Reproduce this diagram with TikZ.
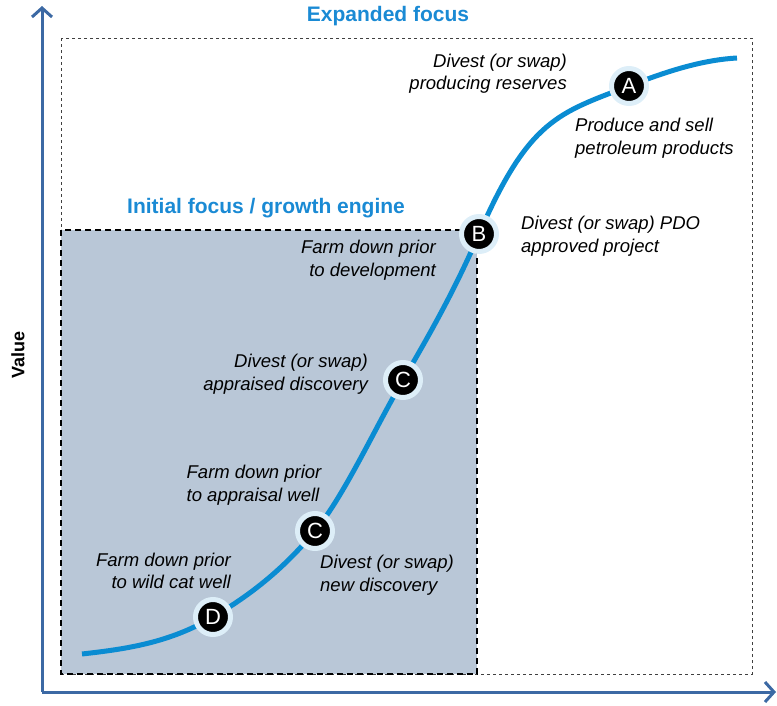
\documentclass[tikz,border=0pt]{standalone}
\usepackage{fontspec}
\setmainfont{Liberation Sans}
\usetikzlibrary{arrows.meta}

\definecolor{axisblue}{HTML}{3C69A4}
\definecolor{titleblue}{HTML}{1A8AD4}
\definecolor{curveblue}{HTML}{0A8CD2}
\definecolor{areafill}{HTML}{B9C7D7}
\definecolor{ringblue}{HTML}{DDEEF8}

\tikzset{
  axis/.style={draw=axisblue, line width=3pt, -{Straight Barb[length=9pt,width=20pt]}},
  stage/.style={circle, fill=black, draw=ringblue, line width=5pt, minimum size=35pt,
    inner sep=0pt, text=white, font=\fontsize{22}{22}\selectfont},
  remark/.style={inner sep=0pt, font=\fontsize{18.5}{22.5}\selectfont\itshape},
  heading/.style={text=titleblue, font=\fontsize{21}{24}\selectfont\bfseries}
}

\begin{document}
\begin{tikzpicture}[x=1pt,y=-1pt]
  \useasboundingbox (0,0) rectangle (777,705);

  % focus areas
  \draw[dashed, draw=black!75, line width=1pt] (61,38) rectangle (752,674);
  \draw[dashed, fill=areafill, line width=1.6pt, dash pattern=on 6pt off 4pt] (61,230) rectangle (477,674);
  \node[heading] (expanded) at (388,16) {Expanded focus};
  \node[heading] (initial) at (266,208) {Initial focus / growth engine};

  % axes
  \coordinate (O) at (42,692);
  \draw[axis] (O) -- (42,6);
  \draw[axis] (O) -- (776,692);
  \node[rotate=90, font=\fontsize{18}{20}\selectfont\bfseries] (value) at (18,355) {Value};

  % value curve
  \coordinate (start) at (82,654);
  \coordinate (pD) at (213,617);
  \coordinate (pC1) at (315,531);
  \coordinate (pC2) at (403,380);
  \coordinate (pB) at (479,234);
  \coordinate (pA) at (629,86);
  \coordinate (end) at (737,58);
  \draw[curveblue, line width=5pt]
    (start) .. controls +(44,-5) and +(-44,26) .. (pD)
            .. controls +(34,-20) and +(-34,41) .. (pC1)
            .. controls +(29,-35) and +(-29,50) .. (pC2)
            .. controls +(25,-43) and +(-25,58) .. (pB)
            .. controls +(50,-115) and +(-70,27) .. (pA)
            .. controls +(36,-14) and +(-36,2) .. (end);

  % stages
  \node[stage] (A) at (pA) {A};
  \node[stage] (B) at (pB) {B};
  \node[stage] (C2) at (pC2) {C};
  \node[stage] (C1) at (pC1) {C};
  \node[stage] (D) at (pD) {D};

  % options
  \node[remark, anchor=east, align=right] (reserves) at (567,73.5) {Divest (or swap)\\producing reserves};
  \node[remark, anchor=west, align=left] (sell) at (575,138) {Produce and sell\\petroleum products};
  \node[remark, anchor=west, align=left] (pdo) at (521,236) {Divest (or swap) PDO\\approved project};
  \node[remark, anchor=east, align=right] (develop) at (436,260) {Farm down prior\\to development};
  \node[remark, anchor=east, align=right] (appraised) at (368,374) {Divest (or swap)\\appraised discovery};
  \node[remark, align=left] (appraisal) at (254,485) {Farm down prior\\to appraisal well};
  \node[remark, anchor=west, align=left] (discovery) at (320,575) {Divest (or swap)\\new discovery};
  \node[remark, anchor=east, align=right] (wildcat) at (231,571) {Farm down prior\\to wild cat well};
\end{tikzpicture}
\end{document}
